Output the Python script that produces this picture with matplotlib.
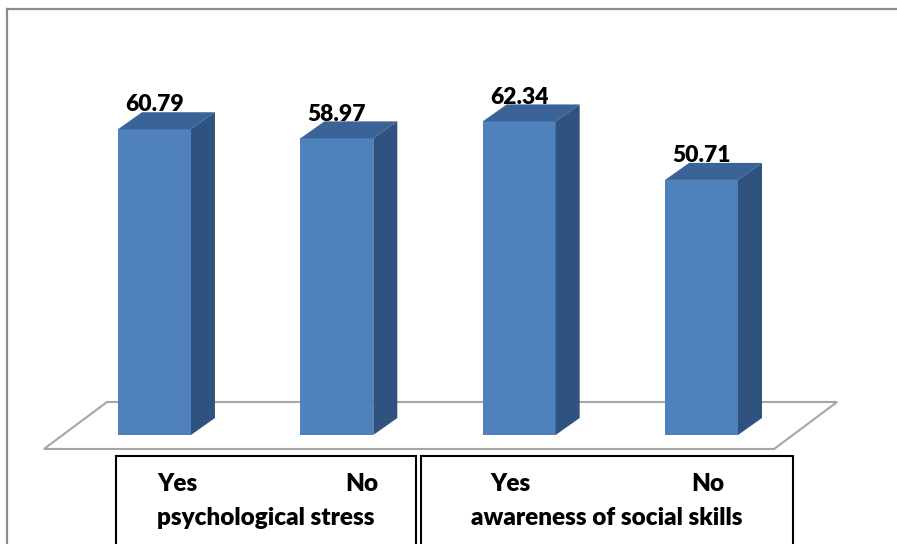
import matplotlib
matplotlib.use("Agg")
import matplotlib.pyplot as plt
from matplotlib.patches import Polygon, Rectangle
from matplotlib.lines import Line2D

# ---- data ----
sub_labels = ["Yes", "No", "Yes", "No"]
group_labels = ["psychological stress", "awareness of social skills"]
values = [60.79, 58.97, 62.34, 50.71]
value_labels = ["60.79", "58.97", "62.34", "50.71"]

W, H = 897, 544
fig = plt.figure(figsize=(W / 100, H / 100), dpi=100)
fig.patch.set_facecolor("white")

def fx(px):
    return px / W

def fy(py):
    return 1 - py / H

FONT = "Lato"
WEIGHT = "heavy"

# axes: y=0 at pixel 435, ~5.03 px per unit
ymax = 85
left_px, right_px = 63.3, 792.7
bottom_px = 435
top_px = bottom_px - ymax * 5.03
ax = fig.add_axes([fx(left_px), fy(bottom_px), (right_px - left_px) / W, (bottom_px - top_px) / H])
ax.set_xlim(-0.5, 3.5)
ax.set_ylim(0, ymax)
ax.axis("off")

front_c = "#4F81BD"
top_c = "#3A6497"
side_c = "#30527E"

bw = 0.40
dx = 24 / 182.3
dy = 17 / 5.03

# floor
fl_x0, fl_x1 = -0.606, 3.398
fl_y0 = -2.78
fdx, fdy = 63 / 182.3, 47 / 5.03
floor = Polygon([(fl_x0, fl_y0), (fl_x1, fl_y0), (fl_x1 + fdx, fl_y0 + fdy), (fl_x0 + fdx, fl_y0 + fdy)],
                closed=True, facecolor="white", edgecolor="#A6A6A6", lw=1.5, clip_on=False, zorder=1)
ax.add_patch(floor)

xs = list(range(len(values)))
bars = ax.bar(xs, values, width=bw, color=front_c, zorder=3, linewidth=0)
for b, v, lab in zip(bars, values, value_labels):
    x0 = b.get_x()
    x1 = x0 + b.get_width()
    top = Polygon([(x0, v), (x1, v), (x1 + dx, v + dy), (x0 + dx, v + dy)], closed=True,
                  facecolor=top_c, edgecolor="none", zorder=3, clip_on=False)
    side = Polygon([(x1, 0), (x1 + dx, dy), (x1 + dx, v + dy), (x1, v)], closed=True,
                   facecolor=side_c, edgecolor="none", zorder=3, clip_on=False)
    ax.add_patch(top)
    ax.add_patch(side)
    ax.annotate(lab, xy=(b.get_x() + b.get_width() / 2, v), xytext=(0, 17.5),
                textcoords="offset points", ha="center", va="center",
                fontsize=16.5, fontweight=WEIGHT, family=FONT, color="black", zorder=5)

# outer frame
fig.add_artist(Line2D([fx(7), fx(W)], [fy(9), fy(9)], color="#8C8C8C", lw=1.6))
fig.add_artist(Line2D([fx(7), fx(7)], [fy(9), fy(H + 5)], color="#8C8C8C", lw=1.6))

# category boxes
boxes = [(116, 416), (421, 793)]
for (bx0, bx1) in boxes:
    fig.add_artist(Rectangle((fx(bx0), fy(H + 10)), (bx1 - bx0) / W, (H + 10 - 456) / H,
                             transform=fig.transFigure, facecolor="none", edgecolor="black", lw=1.5))

sub_pos = [(157, 491), (345, 491), (490, 491), (691, 491)]
for (px, py), t in zip(sub_pos, sub_labels):
    fig.text(fx(px), fy(py), t, ha="left", va="baseline", fontsize=17.5, fontweight=WEIGHT, family=FONT)

group_pos = [(266, 525), (607, 525)]
for (px, py), t in zip(group_pos, group_labels):
    fig.text(fx(px), fy(py), t, ha="center", va="baseline", fontsize=17.5, fontweight=WEIGHT, family=FONT)

fig.savefig("out.png", dpi=100, facecolor="white")
